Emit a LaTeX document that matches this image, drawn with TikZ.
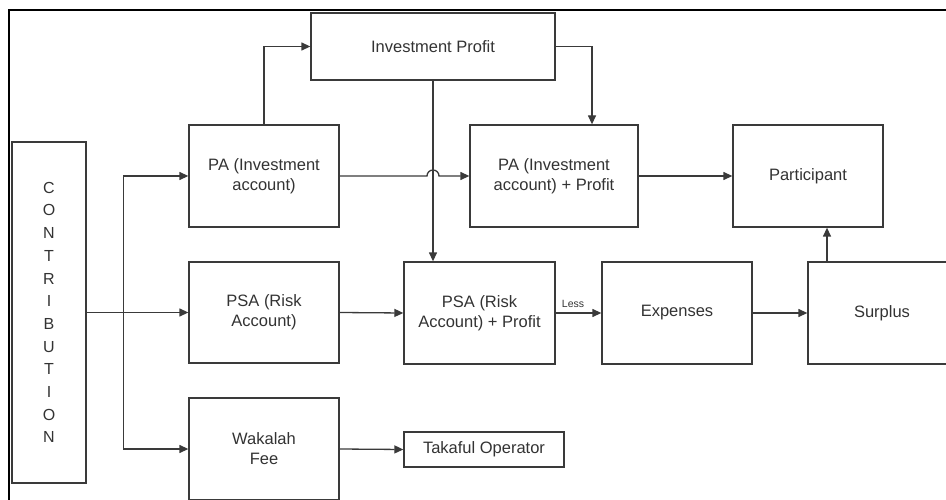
\documentclass[tikz,border=0pt]{standalone}
\usepackage{fontspec}
\setmainfont{Liberation Sans}
\usetikzlibrary{arrows.meta,calc}
\definecolor{lncol}{HTML}{3A3A3A}
\definecolor{txcol}{HTML}{333333}
\begin{document}
\begin{tikzpicture}[x=1pt,y=-1pt,
  box/.style={draw=lncol,line width=1.3pt,fill=white,text=txcol,align=center,inner sep=0pt,
    font=\fontsize{16.5}{20}\selectfont},
  arr/.style={draw=lncol,line width=1.3pt,-{Triangle[length=9pt,width=8pt]}},
  frame/.style={draw=black,line width=2.2pt}]
\useasboundingbox (0,0) rectangle (946,500);
\draw[frame] (950,10) -- (9,10) -- (9,505);
% nodes
\node[box,minimum width=74pt,minimum height=341pt,font=\fontsize{16}{22.7}\selectfont] (C) at (49,312.5)
  {C\\O\\N\\T\\R\\I\\B\\U\\T\\I\\O\\N};
\node[box,minimum width=150pt,minimum height=102pt] (PA) at (264,176) {PA (Investment\\account)};
\node[box,minimum width=244pt,minimum height=67pt] (IP) at (433,46.5) {Investment Profit};
\node[box,minimum width=168pt,minimum height=102pt] (PAP) at (554,176) {PA (Investment\\account) + Profit};
\node[box,minimum width=150pt,minimum height=102pt] (Part) at (808,176) {Participant};
\node[box,minimum width=150pt,minimum height=101pt] (PSA) at (264,312.5) {PSA (Risk\\Account)};
\node[box,minimum width=151pt,minimum height=102pt] (PSAP) at (479.5,313) {PSA (Risk\\Account) + Profit};
\node[box,minimum width=150pt,minimum height=102pt] (Exp) at (677,313) {Expenses};
\node[box,minimum width=148pt,minimum height=102pt] (Sur) at (882,313) {Surplus};
\node[box,minimum width=150pt,minimum height=102pt] (W) at (264,449) {Wakalah\\Fee};
\node[box,minimum width=160pt,minimum height=35pt] (TO) at (484,449.5) {Takaful Operator};
% connectors
\coordinate (tj) at ($(C.east)+(37,0)$);
\draw[arr] (C.east) -- (PSA.west);
\draw[arr] (tj) |- (PA.west);
\draw[arr] (tj) |- (W.west);
\draw[arr] (PA.north) |- (IP.west);
\draw[arr] (IP.east) -| ([xshift=38pt]PAP.north);
\draw[arr] (IP.south) -- (IP.south |- PSAP.north);
\coordinate (hop) at (IP.south |- PA.east);
\draw[arr] (PA.east) -- ([xshift=-6pt]hop) arc[start angle=180,end angle=0,radius=6pt] -- (PAP.west);
\draw[arr] (PAP.east) -- (Part.west);
\draw[arr] (PSA.east) -- (PSAP.west);
\draw[arr] (PSAP.east) -- node[pos=0.38,above=1pt,text=txcol,font=\fontsize{10.5}{12}\selectfont] {Less} (Exp.west);
\draw[arr] (Exp.east) -- (Sur.west);
\draw[arr] ([xshift=-55pt]Sur.north) -- ([xshift=-55pt]Sur.north |- Part.south);
\draw[arr] (W.east) -- (TO.west);
\end{tikzpicture}
\end{document}
